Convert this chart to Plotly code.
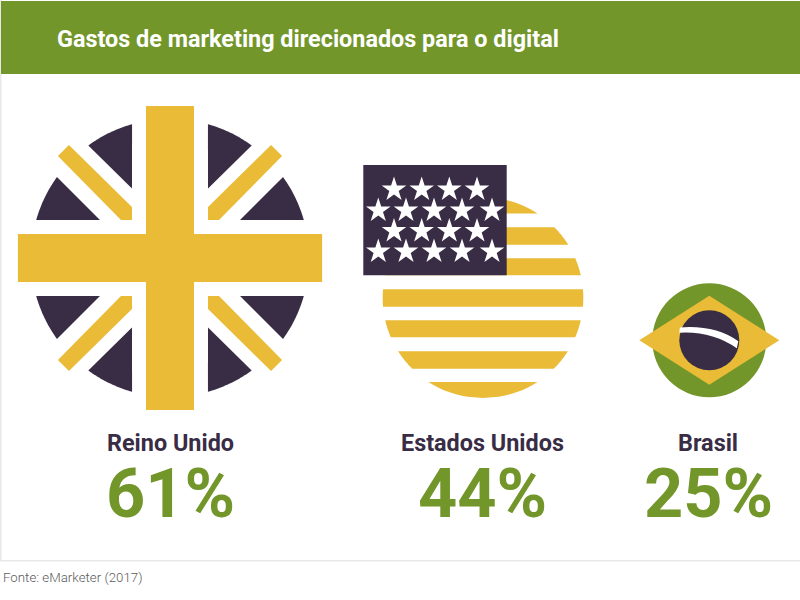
import numpy as np
import plotly.graph_objects as go

# --- data ---
TITLE = "Gastos de marketing direcionados para o digital"
SOURCE = "Fonte: eMarketer (2017)"
countries = ["Reino Unido", "Estados Unidos", "Brasil"]
values = [61, 44, 25]

# --- layout / style ---
NAVY, GOLD, GREEN = "#392c45", "#e9bb36", "#73962a"
PX_PER_POINT = 2.28  # circle radius per percentage point
centers = [(170, 258), (483, 297.7), (709.3, 340.3)]
label_x = [170, 482.5, 708]
radii = [v * PX_PER_POINT for v in values]

shapes = []


def poly(points, color):
    d = "M " + " L ".join(f"{x:.2f},{y:.2f}" for x, y in points) + " Z"
    shapes.append(dict(type="path", path=d, fillcolor=color, line=dict(width=0), layer="below"))


def rect(x0, y0, x1, y1, color):
    shapes.append(dict(type="rect", x0=x0, y0=y0, x1=x1, y1=y1, fillcolor=color, line=dict(width=0), layer="below"))


def circle(cx, cy, r, color):
    shapes.append(dict(type="circle", x0=cx - r, x1=cx + r, y0=cy - r, y1=cy + r,
                       fillcolor=color, line=dict(width=0), layer="below"))


def arc(r, p0, p1, n=24):
    a0, a1 = np.arctan2(p0[1], p0[0]), np.arctan2(p1[1], p1[0])
    return [(r * np.cos(a), r * np.sin(a)) for a in np.linspace(a0, a1, n)]


# --- frame ---
rect(0, 0, 1.5, 561, "#e8e8e8")
rect(0, 560, 800, 561.5, "#e8e8e8")
rect(1, 1, 800, 74, GREEN)

# --- United Kingdom ---
(cx, cy), R = centers[0], radii[0]
s = R / 139
upper = [(-38, -134), (-82, -113)]
lower = [(-113, -81), (-134, -38)]
for sx in (-1, 1):
    for sy in (-1, 1):
        pieces = [
            (arc(139, *upper) + [(-38, -69.5)], NAVY),
            (arc(139, *lower) + [(-70, -38)], NAVY),
            ([(-112, -102), (-101, -113), (-38, -51), (-38, -38), (-49, -38)], GOLD),
        ]
        for pts, col in pieces:
            poly([(cx - sx * x * s, cy - sy * y * s) for x, y in pts], col)
rect(cx - 24 * s, cy - 152 * s, cx + 24 * s, cy + 152 * s, GOLD)
rect(cx - 152 * s, cy - 24 * s, cx + 152 * s, cy + 24 * s, GOLD)

# --- United States ---
(cx, cy), R = centers[1], radii[1]
bands = [(-R, -84.2), (-70.4, -53), (-39.4, -22.4), (-8.4, 9), (22.6, 39.6), (53.6, 71), (84.3, R)]
for y0, y1 in bands:
    ys = np.linspace(y0, y1, 14)
    half = np.sqrt(np.maximum(R**2 - ys**2, 0))
    left = [(cx - h, cy + y) for h, y in zip(half, ys)]
    right = [(cx + h, cy + y) for h, y in zip(half[::-1], ys[::-1])]
    poly(left + right, GOLD)
rect(363.3, 165, 506.7, 275.3, NAVY)

star_x = []
star_y = []
for row_y, row_x in (
    (189.5, [394, 421.7, 449.3, 477]),
    (210.5, [378.3, 406, 434, 462, 492]),
    (231, [394, 421.7, 449.3, 477]),
    (251.5, [378.3, 406, 434, 462, 492]),
):
    star_x += row_x
    star_y += [row_y] * len(row_x)

# --- Brazil ---
(cx, cy), R = centers[2], radii[2]
circle(cx, cy, R, GREEN)
poly([(cx - 70, cy), (cx, cy - 44.5), (cx + 70, cy), (cx, cy + 44.5)], GOLD)
circle(cx, cy, 30, NAVY)
shapes.append(dict(
    type="path",
    path=f"M {cx-29.5},{cy-12.8} Q {cx+6},{cy-15.5} {cx+29},{cy+1} "
         f"L {cx+27.5},{cy+8} Q {cx+2},{cy-9.5} {cx-30},{cy-7.5} Z",
    fillcolor="white", line=dict(width=0), layer="below"))

fig = go.Figure(go.Scatter(
    x=star_x, y=star_y, mode="markers", hoverinfo="skip",
    marker=dict(symbol="star", size=18.5, color="white", line=dict(width=0)),
))

# --- text ---
ann = [dict(x=55, y=38.5, text=f"<b>{TITLE}</b>", xanchor="left", font=dict(size=23.4, color="white")),
       dict(x=1, y=577.5, text=SOURCE, xanchor="left",
            font=dict(size=13.3, color="#5c5c5c", family="Roboto Light, Roboto", weight=300))]
for name, val, x in zip(countries, values, label_x):
    ann.append(dict(x=x, y=443, text=f"<b>{name}</b>", xanchor="center", font=dict(size=23.4, color=NAVY)))
    ann.append(dict(x=x, y=493.5, text=f"<b>{val}%</b>", xanchor="center", font=dict(size=68.5, color=GREEN)))
for a in ann:
    a.update(xref="x", yref="y", yanchor="middle", showarrow=False)

fig.update_layout(
    width=800, height=600, margin=dict(l=0, r=0, t=0, b=0),
    paper_bgcolor="white", plot_bgcolor="white", showlegend=False,
    font=dict(family="Roboto"),
    xaxis=dict(range=[0, 800], visible=False, fixedrange=True),
    yaxis=dict(range=[600, 0], visible=False, fixedrange=True),
    shapes=shapes, annotations=ann,
)
fig.write_html("out.html", config={"displayModeBar": False},
               post_script="document.body.style.margin='0';document.body.style.overflow='hidden';")
